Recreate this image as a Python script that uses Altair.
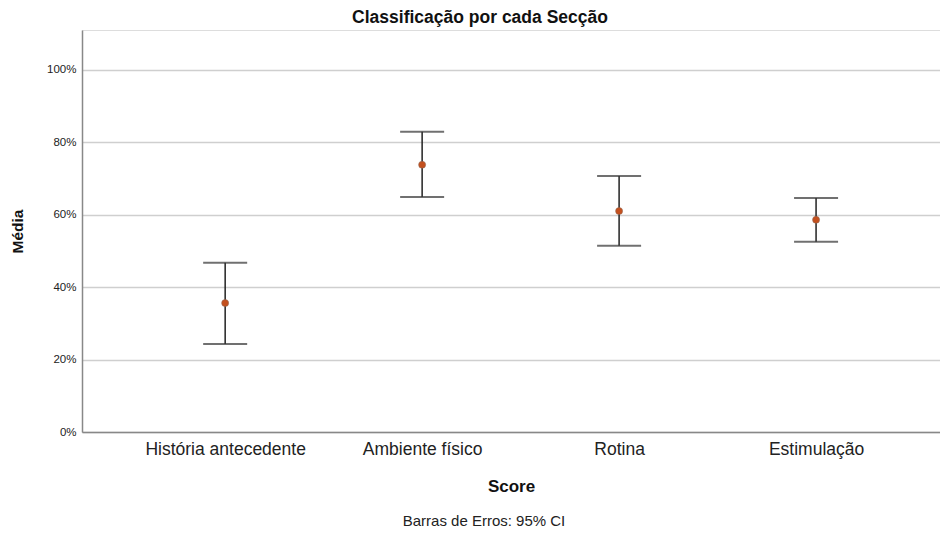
import altair as alt
import pandas as pd

categories = ["História antecedente", "Ambiente físico", "Rotina", "Estimulação"]
means = [0.356, 0.738, 0.610, 0.586]
lower = [0.243, 0.649, 0.514, 0.525]
upper = [0.467, 0.829, 0.707, 0.646]
y_ticks = [0.0, 0.2, 0.4, 0.6, 0.8, 1.0]

title_text = "Classificação por cada Secção"
x_title = "Score"
y_title = "Média"
footnote = "Barras de Erros: 95% CI"

df = pd.DataFrame({"cat": categories, "mean": means, "lo": lower, "hi": upper})

FONT = "Liberation Sans"
W, H = 858, 402

xenc = alt.X(
    "cat:N",
    sort=categories,
    scale=alt.Scale(type="point", padding=0.678, align=0.536),
    axis=alt.Axis(
        title=x_title, labelAngle=0, ticks=False, labelFontSize=17.5, labelColor="#222",
        labelPadding=8, titleFontSize=17, titleFontWeight="bold", titlePadding=21,
        titleColor="#111", domainColor="#888", domainWidth=1.5, labelFont=FONT, titleFont=FONT,
    ),
)
yscale = alt.Scale(domain=[0, 1.11], nice=False)

errbar = alt.Chart(df).mark_rule(color="#222", strokeWidth=1.5).encode(
    x=xenc,
    y=alt.Y("lo:Q", scale=yscale, axis=alt.Axis(
        title=y_title, values=y_ticks, format=".0%", ticks=False, labelFontSize=11.5,
        labelColor="#222", labelPadding=6, titleFontSize=15.5, titleFontWeight="bold",
        titlePadding=21, titleColor="#111", gridColor="#cfcfcf", gridWidth=1.5,
        domainColor="#888", domainWidth=1.5, labelFont=FONT, titleFont=FONT,
    )),
    y2="hi:Q",
)
cap_lo = alt.Chart(df).mark_tick(color="#333", size=44, thickness=2).encode(
    x=xenc, y=alt.Y("lo:Q", scale=yscale)
)
cap_hi = alt.Chart(df).mark_tick(color="#333", size=44, thickness=2).encode(
    x=xenc, y=alt.Y("hi:Q", scale=yscale)
)
pts = alt.Chart(df).mark_circle(size=50, color="#c4501e", opacity=1,
                                 stroke="#8a6a5a", strokeWidth=0.5).encode(
    x=xenc, y=alt.Y("mean:Q", scale=yscale)
)
note = alt.Chart(pd.DataFrame({"t": [footnote]})).mark_text(
    font=FONT, fontSize=15, color="#222", align="center", baseline="middle"
).encode(x=alt.value(402), y=alt.value(491), text="t:N")

chart = alt.layer(errbar, cap_lo, cap_hi, pts, note).properties(
    width=W, height=H,
    title=alt.TitleParams(title_text, font=FONT, fontSize=17.5, fontWeight="bold",
                          color="#111", anchor="middle", dx=-31, offset=4),
    autosize=alt.AutoSizeParams(type="none"),
    padding={"left": 74, "top": 22, "right": 0, "bottom": 100},
).configure_view(stroke=None).configure(background="white")

chart.save("out.html", embed_options={"renderer": "svg", "actions": False})
